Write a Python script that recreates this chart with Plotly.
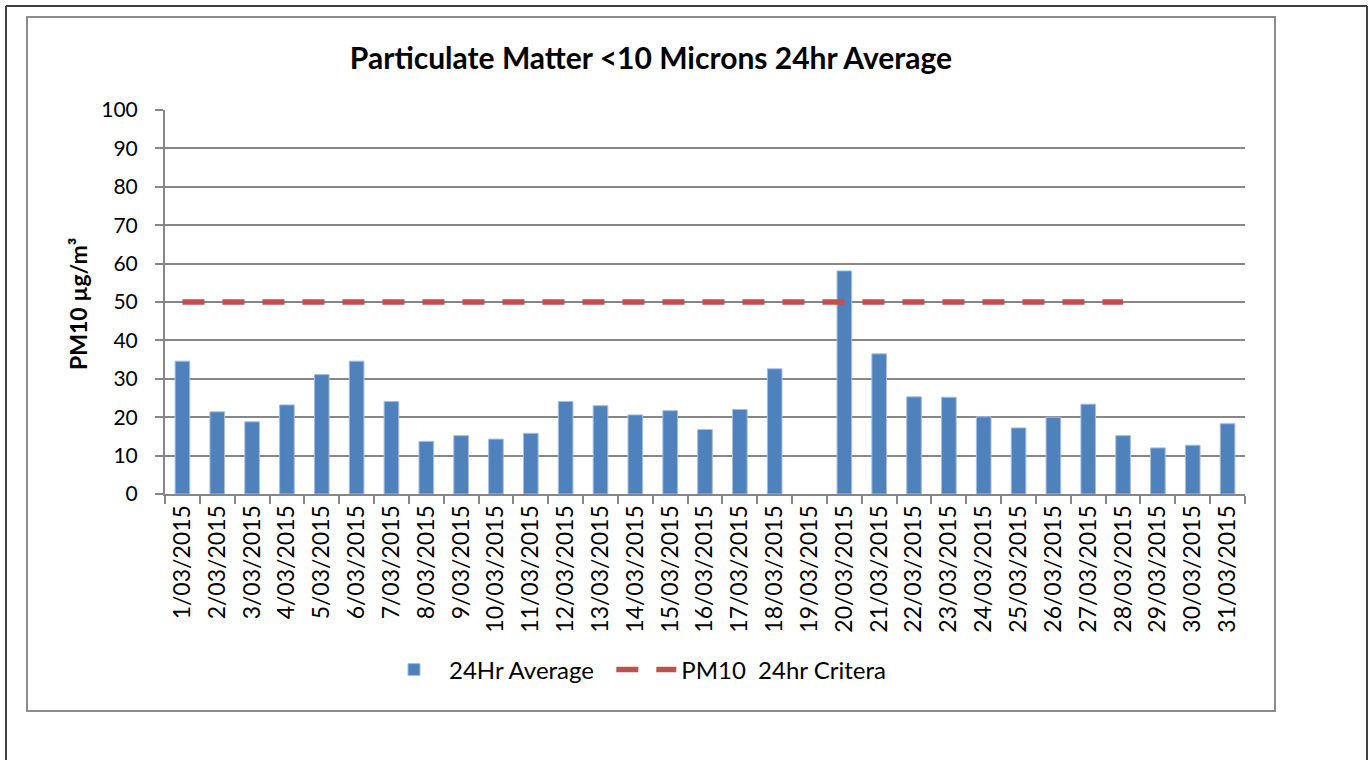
import plotly.graph_objects as go

dates = [f"{d}/03/2015" for d in range(1, 32)]
avg_values = [34.6, 21.4, 18.8, 23.2, 31.1, 34.6, 24.1, 13.7, 15.2, 14.3, 15.8,
              24.1, 23.0, 20.6, 21.7, 16.8, 22.0, 32.6, None, 58.1, 36.5,
              25.3, 25.2, 20.1, 17.2, 20.0, 23.4, 15.2, 12.0, 12.7, 18.3]
criteria_dates = dates[:28]
criteria_values = [50] * 28

W, H = 1370, 760
L, R, T, B = 165, 125, 110, 266
pw, ph = W - L - R, H - T - B

def px_x(x):
    return (x - L) / pw

def px_y(y):
    return (H - B - y) / ph

FONT = "Lato"
GRID = "#878787"

fig = go.Figure()
fig.add_trace(go.Bar(
    x=dates, y=avg_values, name="24Hr Average\u00a0\u00a0",
    marker=dict(color="#4F81BD", line=dict(color="#A7BEDC", width=1)),
))
fig.add_trace(go.Scatter(
    x=criteria_dates, y=criteria_values, name="PM10\u00a0 24hr Critera",
    mode="lines", line=dict(color="#C0504D", width=5.5, dash="22px,18px"),
))

shapes = [
    dict(type="rect", xref="paper", yref="paper",
         x0=px_x(27), x1=px_x(1275), y0=px_y(711), y1=px_y(17),
         line=dict(color="#8C8C8C", width=2), layer="below"),
    dict(type="line", xref="paper", yref="paper",
         x0=px_x(6), x1=px_x(6), y0=px_y(6), y1=px_y(800),
         line=dict(color="#404040", width=2)),
    dict(type="line", xref="paper", yref="paper",
         x0=px_x(1367), x1=px_x(1367), y0=px_y(6), y1=px_y(800),
         line=dict(color="#404040", width=2)),
    dict(type="line", xref="paper", yref="paper",
         x0=px_x(6), x1=px_x(1367), y0=px_y(6), y1=px_y(6),
         line=dict(color="#404040", width=2)),
]

fig.update_layout(
    width=W, height=H, autosize=False,
    margin=dict(l=L, r=R, t=T, b=B),
    paper_bgcolor="white", plot_bgcolor="white",
    font=dict(family=FONT, size=21, color="black"),
    title=dict(text="<b>Particulate Matter &lt;10 Microns 24hr Average</b>",
               x=651 / W, xref="container", xanchor="center",
               y=1 - 58 / H, yref="container", yanchor="middle",
               font=dict(family=FONT, size=30, color="black")),
    bargap=0.58,
    showlegend=True,
    legend=dict(orientation="h", xref="container", yref="container",
                x=635 / W, xanchor="center", y=1 - 670 / H, yanchor="middle",
                font=dict(family=FONT, size=24), itemwidth=60),
    shapes=shapes,
    annotations=[dict(text="<b>PM10 µg/m³</b>", xref="paper", yref="paper",
                      x=px_x(78), y=px_y(304), showarrow=False, textangle=-90,
                      font=dict(family=FONT, size=23, color="black"),
                      xanchor="center", yanchor="middle")],
)
fig.update_xaxes(
    type="category", tickangle=-90, showgrid=False,
    showline=True, linecolor=GRID, linewidth=2,
    ticks="outside", ticklen=8, tickcolor=GRID, tickwidth=2, tickson="boundaries",
    tickfont=dict(family=FONT, size=23),
)
fig.update_yaxes(
    range=[0, 100], dtick=10, showgrid=True, gridcolor=GRID, gridwidth=2,
    showline=True, linecolor=GRID, linewidth=2, zeroline=False,
    ticks="outside", ticklen=8, tickcolor=GRID, tickwidth=2,
    ticklabelstandoff=13, tickfont=dict(family=FONT, size=21),
)

fig.write_html("out.html", post_script="document.body.style.margin='0';",
               config={"displayModeBar": False})
